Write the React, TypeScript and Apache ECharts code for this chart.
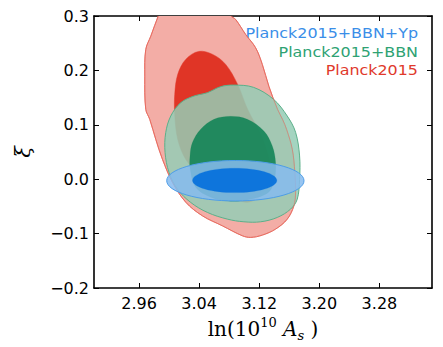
import React, { useEffect, useRef } from "react";
import * as echarts from "echarts";

// Axis settings
const xMin = 2.9;
const xMax = 3.35;
const xTicks = [2.96, 3.04, 3.12, 3.2, 3.28];
const yMin = -0.2;
const yMax = 0.3;
const yStep = 0.1;
const yTitle = "ξ";

const legendLabels = ["Planck2015+BBN+Yp", "Planck2015+BBN", "Planck2015"];
const legendColors = ["#3a8ee8", "#2ea273", "#e0392b"];

// Planck2015 contours (95% outer, 68% inner), points [ln(10^10 As), xi]
const planckOuter: number[][] = [
  [2.995, 0.33], [2.9858, 0.301], [2.9756, 0.263], [2.9689, 0.2385], [2.9676, 0.1895],
  [2.9689, 0.1284], [2.9742, 0.1101], [2.9822, 0.0734], [2.9911, 0.0367], [3.0044, -0.0055],
  [3.0221, -0.0422], [3.0443, -0.0673], [3.0709, -0.0857], [3.0975, -0.104], [3.1085, -0.107],
  [3.1241, -0.1028], [3.1418, -0.0917], [3.1573, -0.0734], [3.1661, -0.049], [3.1684, -0.0244],
  [3.1674, 0.0123], [3.164, 0.055], [3.1564, 0.0917], [3.151, 0.11], [3.1444, 0.1284],
  [3.1329, 0.1706], [3.1241, 0.211], [3.1152, 0.2416], [3.1019, 0.2661], [3.0886, 0.2936],
  [3.0819, 0.301], [3.075, 0.33],
];
const planckInner: number[][] = [
  [3.0394, 0.2349], [3.058, 0.2294], [3.0753, 0.211], [3.0912, 0.1743], [3.1045, 0.1284],
  [3.1218, 0.0826], [3.1311, 0.0459], [3.1351, 0.0183], [3.1325, -0.0092], [3.1192, -0.033],
  [3.1045, -0.0422], [3.0886, -0.0367], [3.062, -0.0183], [3.0394, 0.0092], [3.0221, 0.0367],
  [3.0115, 0.0734], [3.0075, 0.1193], [3.0075, 0.156], [3.0115, 0.1927], [3.0221, 0.2202],
];
// Planck2015+BBN contours
const bbnOuter: number[][] = [
  [3.0859, 0.173], [3.1125, 0.1688], [3.1391, 0.1468], [3.1573, 0.1161], [3.1684, 0.0862],
  [3.1737, 0.0428], [3.1737, 0.0], [3.1706, -0.0367], [3.1617, -0.055], [3.144, -0.0703],
  [3.1218, -0.0783], [3.0996, -0.0783], [3.0776, -0.0734], [3.051, -0.0611], [3.0288, -0.0428],
  [3.0111, -0.0183], [2.9999, 0.0123], [2.9946, 0.049], [2.9955, 0.0857], [3.0022, 0.1161],
  [3.0155, 0.1407], [3.0331, 0.1528], [3.051, 0.1591], [3.0686, 0.1701],
];
const bbnInner: number[][] = [
  [3.082, 0.1156], [3.1042, 0.1101], [3.1262, 0.0886], [3.1374, 0.0611], [3.1418, 0.0306],
  [3.1404, 0.0], [3.1325, -0.0239], [3.1085, -0.0367], [3.082, -0.0404], [3.0553, -0.033],
  [3.0354, -0.0147], [3.0281, 0.0183], [3.0278, 0.0428], [3.031, 0.0673], [3.042, 0.0917],
  [3.0597, 0.1101],
];
// Planck2015+BBN+Yp contours: [centre x, centre y, half-width x, half-height y]
const ypOuter = [3.0882, -0.0028, 0.0914, 0.0372];
const ypInner = [3.0873, -0.0022, 0.0561, 0.0224];

function polygonSeries(points: number[][], fill: string, stroke: string, lineWidth: number) {
  return {
    type: "custom",
    coordinateSystem: "cartesian2d",
    xAxisIndex: 0,
    yAxisIndex: 0,
    clip: true,
    silent: true,
    data: points,
    encode: { x: 0, y: 1 },
    renderItem: (params: any, api: any) => {
      if (params.dataIndex !== 0) return null;
      const pts = points.map((p) => api.coord(p));
      return {
        type: "polygon",
        shape: { points: pts, smooth: 0.35 },
        style: { fill, stroke, lineWidth },
      };
    },
  };
}

function ellipseSeries(e: number[], fill: string, stroke: string, lineWidth: number) {
  return {
    type: "custom",
    coordinateSystem: "cartesian2d",
    xAxisIndex: 0,
    yAxisIndex: 0,
    clip: true,
    silent: true,
    data: [[e[0], e[1]]],
    encode: { x: 0, y: 1 },
    renderItem: (params: any, api: any) => {
      const c = api.coord([e[0], e[1]]);
      const s = api.size([e[2], e[3]]);
      return {
        type: "ellipse",
        shape: { cx: c[0], cy: c[1], rx: s[0], ry: s[1] },
        style: { fill, stroke, lineWidth },
      };
    },
  };
}

const axisLine = { show: true, onZero: false, lineStyle: { color: "#000", width: 1.6 } };
const labelFont = { fontFamily: "DejaVu Sans", fontSize: 16, color: "#000" };

export default function App() {
  const ref = useRef<HTMLDivElement>(null);
  useEffect(() => {
    if (!ref.current) return;
    const chart = echarts.init(ref.current, null, { renderer: "svg" });
    const serif = "DejaVu Serif";
    chart.setOption({
      animation: false,
      backgroundColor: "#fff",
      grid: { left: 94, right: 11, top: 16, bottom: 59, containLabel: false },
      xAxis: [
        {
          type: "value",
          min: xMin,
          max: xMax,
          position: "bottom",
          axisLine,
          axisTick: { show: true, inside: true, length: 5, customValues: xTicks, lineStyle: { color: "#000", width: 1 } },
          axisLabel: { customValues: xTicks, formatter: (v: number) => v.toFixed(2), margin: 7, ...labelFont },
          splitLine: { show: false },
          name: "{n|ln(10}{sup|10}{n| }{it|A}{sub|s}{n| )}",
          nameLocation: "middle",
          nameGap: 26,
          nameTextStyle: {
            rich: {
              n: { fontFamily: serif, fontSize: 20, color: "#000", lineHeight: 26 },
              sup: { fontFamily: serif, fontSize: 13, color: "#000", lineHeight: 13, verticalAlign: "top" },
              it: { fontFamily: serif, fontSize: 20, fontStyle: "italic", color: "#000", lineHeight: 26 },
              sub: { fontFamily: serif, fontSize: 13, fontStyle: "italic", color: "#000", lineHeight: 13, verticalAlign: "bottom" },
            },
          },
        },
        {
          type: "value",
          min: xMin,
          max: xMax,
          position: "top",
          axisLine,
          axisTick: { show: true, inside: true, length: 5, customValues: xTicks, lineStyle: { color: "#000", width: 1 } },
          axisLabel: { show: false },
          splitLine: { show: false },
        },
      ],
      yAxis: [
        {
          type: "value",
          min: yMin,
          max: yMax,
          interval: yStep,
          position: "left",
          axisLine,
          axisTick: { show: true, inside: true, length: 5, lineStyle: { color: "#000", width: 1 } },
          axisLabel: {
            margin: 5,
            formatter: (v: number) => (Math.abs(v) < 1e-9 ? 0 : v).toFixed(1).replace("-", "\u2212"),
            ...labelFont,
          },
          splitLine: { show: false },
        },
        {
          type: "value",
          min: yMin,
          max: yMax,
          interval: yStep,
          position: "right",
          axisLine,
          axisTick: { show: true, inside: true, length: 5, lineStyle: { color: "#000", width: 1 } },
          axisLabel: { show: false },
          splitLine: { show: false },
        },
      ],
      series: [
        polygonSeries(planckOuter, "rgb(243,173,166)", "rgb(232,108,96)", 1),
        polygonSeries(planckInner, "rgb(224,53,38)", "rgb(224,53,38)", 0.5),
        polygonSeries(bbnOuter, "rgba(148,205,181,0.85)", "rgb(92,176,138)", 1),
        polygonSeries(bbnInner, "rgba(19,132,87,0.9)", "rgba(19,132,87,0.3)", 0.5),
        polygonSeries(planckOuter, "none", "rgba(232,108,96,0.55)", 1),
        ellipseSeries(ypOuter, "rgba(134,187,238,0.85)", "rgb(77,157,232)", 1),
        ellipseSeries(ypInner, "rgba(8,114,220,0.95)", "rgba(8,114,220,0.4)", 0.5),
      ],
      graphic: [
        ...legendLabels.map((t, i) => ({
          type: "text",
          x: 418,
          y: 33 + i * 18.5,
          scaleX: 1.18,
          silent: true,
          style: {
            text: t,
            fill: legendColors[i],
            fontFamily: "DejaVu Sans",
            fontSize: 13.5,
            textAlign: "right",
            verticalAlign: "middle",
          },
        })),
        {
          type: "text",
          x: 23,
          y: 152,
          rotation: Math.PI / 2,
          silent: true,
          style: {
            text: yTitle,
            fill: "#000",
            fontFamily: serif,
            fontStyle: "italic",
            fontSize: 21,
            textAlign: "center",
            verticalAlign: "middle",
          },
        },
      ],
    });
    return () => chart.dispose();
  }, []);
  return (
    <div
      ref={ref}
      style={{ position: "absolute", left: 0, top: 0, width: 443, height: 347, background: "#fff" }}
    />
  );
}
